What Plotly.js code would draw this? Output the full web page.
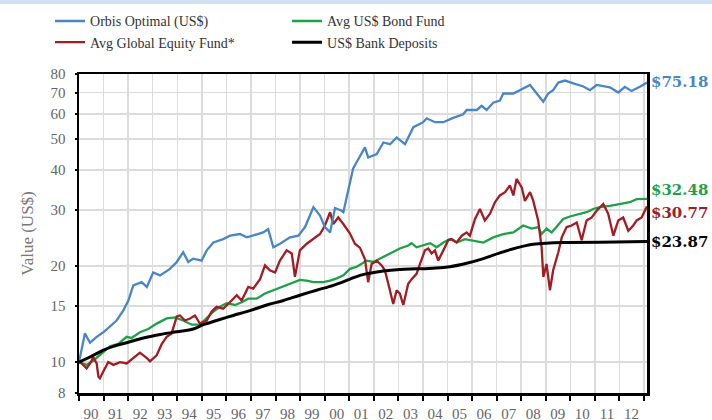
<!DOCTYPE html>
<html>
<head>
<meta charset="utf-8">
<script src="https://cdn.plot.ly/plotly-3.0.1.min.js"></script>
<style>html,body{margin:0;padding:0;background:#fff;}#chart{width:712px;height:420px;}</style>
</head>
<body>
<div id="chart"></div>
<script>
// ---- Data ----
const orbisYears = [1990.00,1990.24,1990.45,1990.72,1990.99,1991.26,1991.53,1991.80,1992.01,1992.21,1992.55,1992.76,1993.02,1993.30,1993.70,1993.98,1994.24,1994.45,1994.65,1994.99,1995.20,1995.47,1995.87,1996.15,1996.55,1996.83,1997.23,1997.50,1997.70,1997.91,1998.18,1998.59,1998.93,1999.20,1999.40,1999.54,1999.81,2000.01,2000.22,2000.42,2000.69,2000.76,2000.90,2001.03,2001.16,2001.30,2001.51,2001.64,2001.77,2002.12,2002.39,2002.66,2002.93,2003.27,2003.61,2004.01,2004.15,2004.49,2004.83,2005.23,2005.64,2005.78,2006.19,2006.39,2006.59,2006.86,2007.13,2007.27,2007.68,2007.95,2008.36,2008.63,2008.90,2009.10,2009.30,2009.51,2009.78,2010.12,2010.53,2010.80,2011.07,2011.61,2011.95,2012.22,2012.49,2012.83,2013.12];
const orbisValues = [10.0,12.3,11.5,12.0,12.4,12.9,13.5,14.5,15.6,17.4,17.8,17.2,19.1,18.7,19.6,20.6,22.1,20.6,21.1,20.8,22.4,23.7,24.3,24.9,25.2,24.6,25.2,25.5,26.1,22.9,23.5,24.6,24.9,26.5,28.8,30.6,28.8,26.5,25.5,30.4,29.8,29.5,33.0,37.0,40.5,42.3,45.4,47.1,43.8,44.9,48.8,48.2,50.6,48.2,54.5,56.5,58.1,56.5,56.5,58.3,59.8,61.7,61.7,63.6,61.7,65.0,66.0,69.5,69.5,71.2,73.9,69.5,65.5,69.5,71.2,75.2,76.3,74.8,73.1,71.2,73.9,72.7,70.0,72.9,70.8,73.0,75.18];

const equityYears = [1990.00,1990.11,1990.31,1990.45,1990.58,1990.72,1990.79,1990.85,1990.99,1991.19,1991.40,1991.67,1991.94,1992.21,1992.48,1992.76,1992.89,1993.16,1993.37,1993.57,1993.77,1993.98,1994.11,1994.31,1994.52,1994.72,1994.92,1995.20,1995.40,1995.60,1995.87,1996.21,1996.42,1996.62,1996.89,1997.09,1997.37,1997.57,1997.77,1997.98,1998.18,1998.45,1998.66,1998.79,1998.99,1999.27,1999.54,1999.81,2000.01,2000.22,2000.35,2000.55,2000.76,2001.03,2001.23,2001.44,2001.64,2001.77,2001.91,2002.12,2002.32,2002.45,2002.59,2002.79,2002.93,2003.06,2003.20,2003.40,2003.54,2003.74,2003.88,2004.08,2004.22,2004.35,2004.49,2004.62,2004.83,2005.03,2005.17,2005.37,2005.58,2005.78,2005.91,2006.12,2006.32,2006.52,2006.73,2006.93,2007.13,2007.34,2007.54,2007.68,2007.81,2008.02,2008.15,2008.36,2008.49,2008.69,2008.83,2008.90,2009.03,2009.17,2009.30,2009.51,2009.65,2009.85,2010.05,2010.26,2010.46,2010.66,2010.87,2011.07,2011.34,2011.54,2011.75,2011.95,2012.15,2012.36,2012.56,2012.70,2012.90,2013.12];
const equityValues = [10.0,9.9,9.55,9.9,10.35,9.9,9.0,8.9,9.35,10.0,9.8,10.0,9.9,10.3,10.7,10.3,10.05,10.5,11.4,12.0,12.3,13.9,14.0,13.5,13.7,14.0,13.2,13.5,14.4,14.9,14.7,15.6,16.2,15.6,17.2,17.0,18.2,20.1,19.4,19.1,20.8,22.4,21.9,18.5,22.4,23.5,24.4,25.2,26.8,29.5,27.1,28.4,27.1,25.3,23.5,22.8,21.0,17.8,20.3,20.8,20.1,19.4,17.6,15.2,16.8,16.4,15.1,17.6,18.2,18.9,20.3,22.4,22.7,21.9,22.4,20.8,22.4,24.1,24.3,23.7,24.9,25.5,24.9,28.1,30.2,27.8,29.2,31.7,33.3,34.1,35.8,33.3,37.5,35.3,32.0,34.1,32.0,27.8,22.9,18.5,20.3,16.8,19.4,22.1,24.6,26.5,26.8,27.4,24.1,27.8,28.4,29.8,31.3,29.2,24.9,27.8,28.4,25.8,26.8,27.8,28.4,30.77];

const bondYears = [1990.00,1990.31,1990.58,1990.92,1991.26,1991.60,1991.94,1992.14,1992.48,1992.82,1993.16,1993.57,1993.91,1994.24,1994.59,1994.92,1995.20,1995.47,1995.74,1996.01,1996.35,1996.62,1996.89,1997.23,1997.57,1997.91,1998.32,1998.73,1998.99,1999.27,1999.54,1999.94,2000.22,2000.49,2000.76,2001.03,2001.30,2001.44,2001.71,2001.98,2002.25,2002.52,2002.73,2003.06,2003.40,2003.54,2003.74,2004.01,2004.29,2004.56,2004.83,2005.10,2005.37,2005.71,2006.05,2006.46,2006.86,2007.27,2007.68,2008.08,2008.42,2008.69,2008.83,2009.03,2009.24,2009.44,2009.71,2009.98,2010.39,2010.66,2010.93,2011.20,2011.61,2012.01,2012.42,2012.70,2013.12];
const bondValues = [10.0,9.8,10.1,10.6,11.2,11.4,12.0,11.9,12.4,12.7,13.2,13.7,13.8,13.5,13.1,13.1,13.7,14.4,14.9,15.3,15.1,15.4,15.8,15.8,16.4,16.8,17.2,17.8,18.1,18.0,17.8,17.8,18.0,18.3,18.7,19.6,19.9,20.2,20.8,20.6,21.1,21.6,22.1,22.7,23.2,23.6,22.9,23.2,23.6,22.9,23.7,24.3,23.7,24.3,24.0,23.7,24.6,25.2,25.5,26.8,26.2,26.5,25.2,26.2,25.5,26.5,28.1,28.6,29.2,29.5,30.2,30.6,30.9,31.3,31.7,32.4,32.48];

const depositYears = [1990.00,1990.58,1990.99,1991.40,1991.94,1992.62,1993.30,1993.98,1994.65,1995.06,1995.60,1996.28,1996.96,1997.64,1998.32,1998.99,1999.67,2000.35,2001.03,2001.44,2001.84,2002.39,2003.06,2003.74,2004.42,2005.10,2005.78,2006.46,2007.13,2007.81,2008.49,2009.03,2009.85,2011.20,2013.12];
const depositValues = [10.0,10.5,10.9,11.2,11.5,11.9,12.2,12.45,12.7,13.1,13.5,14.0,14.5,15.1,15.6,16.2,16.8,17.4,18.2,18.7,19.0,19.3,19.5,19.6,19.7,19.9,20.4,21.1,22.0,22.8,23.4,23.6,23.7,23.75,23.87];

const seriesNames = ['Orbis Optimal (US$)','Avg US$ Bond Fund','Avg Global Equity Fund*','US$ Bank Deposits'];
const yearTicks = [1990,1991,1992,1993,1994,1995,1996,1997,1998,1999,2000,2001,2002,2003,2004,2005,2006,2007,2008,2009,2010,2011,2012,2013];
const yearLabels = ['90','91','92','93','94','95','96','97','98','99','00','01','02','03','04','05','06','07','08','09','10','11','12',''];
const valueTicks = [8,10,15,20,30,40,50,60,70,80];
const valueLabels = ['8','10','15','20','30','40','50','60','70','80'];

// ---- Styling ----
const BLUE = '#4a86c4', GREEN = '#1fa048', RED = '#a11d24', BLACK = '#000000';
const SERIF = '"Liberation Serif", "DejaVu Serif", serif';
const LABELFONT = '"DejaVu Serif", "Liberation Serif", serif';
const xRange = [1990, 2013.12];

const traces = [
  {x: bondYears, y: bondValues, name: seriesNames[1], legendrank: 2, mode: 'lines', line: {color: GREEN, width: 2.3}},
  {x: equityYears, y: equityValues, name: seriesNames[2], legendrank: 3, mode: 'lines', line: {color: RED, width: 2.3}},
  {x: orbisYears, y: orbisValues, name: seriesNames[0], legendrank: 1, mode: 'lines', line: {color: BLUE, width: 2.3}},
  {x: depositYears, y: depositValues, name: seriesNames[3], legendrank: 4, mode: 'lines', line: {color: BLACK, width: 3, shape: 'spline'}}
];

function endLabel(years, vals, color, yshift) {
  const v = vals[vals.length - 1];
  return {x: years[years.length - 1], y: Math.log10(v), xref: 'x', yref: 'y',
    text: '$' + v.toFixed(2), showarrow: false, xanchor: 'left', yanchor: 'middle',
    xshift: 3, yshift: yshift, borderpad: 0, font: {family: LABELFONT, size: 15, color: color, weight: 'bold'}};
}

const layout = {
  width: 712, height: 420,
  margin: {l: 79, r: 65, t: 74, b: 27, autoexpand: false},
  paper_bgcolor: '#ffffff', plot_bgcolor: '#ffffff',
  showlegend: true,
  legend: {orientation: 'h', x: -0.051, xanchor: 'left', y: 1.215, yanchor: 'top',
    entrywidth: 192, traceorder: 'normal', font: {family: SERIF, size: 14, color: '#333333'},
    bgcolor: 'rgba(0,0,0,0)', itemclick: false},
  xaxis: {range: xRange, type: 'linear', tickmode: 'array', tickvals: yearTicks, ticktext: yearLabels,
    ticklabelshift: 12, ticklabelstandoff: 0,
    ticks: 'outside', ticklen: 5, tickwidth: 2, tickcolor: '#000',
    showline: true, linecolor: '#000', linewidth: 2.5, mirror: true,
    showgrid: true, gridcolor: '#dcdcdc', gridwidth: 1.5, zeroline: false,
    tickfont: {family: SERIF, size: 15, color: '#666666'}, fixedrange: true},
  xaxis2: {range: xRange, overlaying: 'x', anchor: 'y', side: 'bottom', tickmode: 'array', tickvals: yearTicks,
    ticks: 'inside', ticklen: 3, tickwidth: 2, tickcolor: '#000', showticklabels: false,
    showgrid: false, zeroline: false, showline: false},
  yaxis: {type: 'log', range: [Math.log10(8), Math.log10(80)], tickmode: 'array', tickvals: valueTicks, ticktext: valueLabels,
    ticks: 'outside', ticklen: 2, tickwidth: 2, tickcolor: '#000', ticklabelstandoff: 6,
    showline: true, linecolor: '#000', linewidth: 2.5, mirror: true,
    showgrid: true, gridcolor: '#dcdcdc', gridwidth: 1.5, zeroline: false,
    tickfont: {family: SERIF, size: 15, color: '#666666'},
    title: {text: 'Value (US$)', font: {family: SERIF, size: 17, color: '#777777'}, standoff: 13}, fixedrange: true},
  yaxis2: {type: 'log', range: [Math.log10(8), Math.log10(80)], overlaying: 'y', anchor: 'x', side: 'left', tickmode: 'array', tickvals: valueTicks,
    ticks: 'inside', ticklen: 4, tickwidth: 2, tickcolor: '#000', showticklabels: false,
    showgrid: false, zeroline: false, showline: false},
  shapes: [
    {type: 'rect', xref: 'paper', yref: 'paper', x0: -79/568, x1: 1 + 65/568, y0: 1 + 70/319, y1: 1 + 74/319,
      fillcolor: '#cfe1f2', line: {width: 0}, layer: 'below'}
  ],
  annotations: [
    endLabel(orbisYears, orbisValues, BLUE, 1),
    endLabel(bondYears, bondValues, GREEN, 9),
    endLabel(equityYears, equityValues, RED, -7),
    endLabel(depositYears, depositValues, BLACK, 0)
  ]
};

Plotly.newPlot('chart', traces, layout, {staticPlot: true, displayModeBar: false});
</script>
</body>
</html>
